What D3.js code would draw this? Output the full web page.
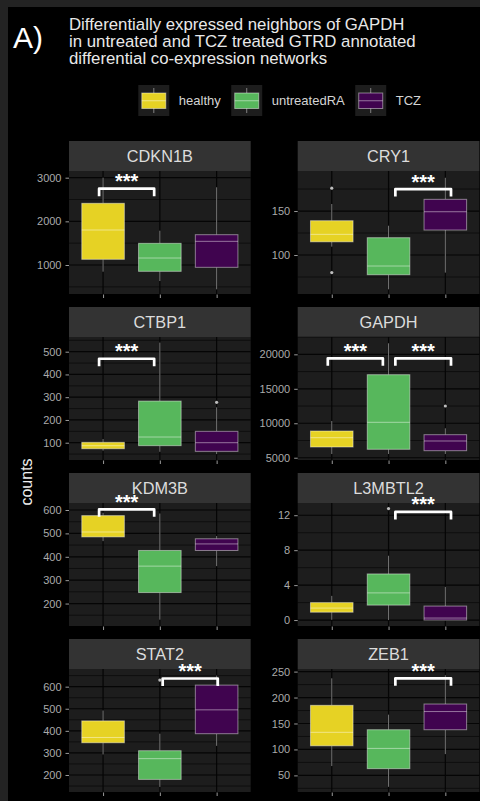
<!DOCTYPE html>
<html>
<head>
<meta charset="utf-8">
<script src="https://cdn.jsdelivr.net/npm/d3@7/dist/d3.min.js"></script>
<style>
  html, body { margin: 0; padding: 0; background: #000; }
  svg { display: block; font-family: "Liberation Sans", Arial, sans-serif; }
</style>
</head>
<body>
<svg id="chart" width="480" height="801"></svg>
<script>
// ---- data -------------------------------------------------------------
const genes = ["CDKN1B", "CRY1", "CTBP1", "GAPDH", "KDM3B", "L3MBTL2", "STAT2", "ZEB1"];
const groups = ["healthy", "untreatedRA", "TCZ"];
const groupColors = ["#e6d224", "#57b75c", "#40044f"];

// box statistics per gene, one value per group (healthy, untreatedRA, TCZ)
const whiskerLow  = [[847, 633, 443], [109.5, 61, 80], [65, 60, 50], [5542, 5542, 5542],
                     [467, 131, 360], [0.03, 0, 0], [293, 146, 332], [68, 28, 91]];
const quartile1   = [[1130, 855, 947], [115, 77.6, 128.4], [73.6, 87, 62], [6557, 6223, 6021],
                     [485, 247, 427], [0.9, 1.71, 0], [346, 180, 387], [107, 63, 138]];
const medians     = [[1802, 1160, 1542], [123.5, 87.5, 149.2], [86.8, 125, 100], [7907, 10141, 7428],
                     [506, 360, 455], [1.37, 3.11, 0.23], [370, 274, 495], [133, 102, 173]];
const quartile3   = [[2413, 1497, 1694], [139, 119.7, 163.3], [101.6, 283, 150], [8879, 17046, 8342],
                     [576, 427, 477], [2.0, 5.28, 1.6], [445, 310, 607], [185, 138, 187.5]];
const whiskerHigh = [[3000, 1786, 2780], [158, 133.3, 187.8], [116, 540, 255.6], [10329, 21601, 9270],
                     [588, 585, 489], [2.77, 7.36, 3.8], [492, 387, 650], [237, 167, 243]];

// outlying points: [gene, group, value]
const outliers = [
  ["CRY1", "healthy", 176], ["CRY1", "healthy", 80],
  ["CTBP1", "TCZ", 277.6],
  ["GAPDH", "TCZ", 12505],
  ["L3MBTL2", "untreatedRA", 12.76],
  ["STAT2", "untreatedRA", 630]
];

// significance brackets: [gene, xmin, xmax (group index units, 1-based), y value, label]
const brackets = [
  ["CDKN1B", 0.93, 1.9, 2748, "***"],
  ["CRY1", 2.12, 3.1, 175, "***"],
  ["CTBP1", 0.93, 1.9, 469, "***"],
  ["GAPDH", 0.93, 1.9, 19425, "***"],
  ["GAPDH", 2.12, 3.1, 19425, "***"],
  ["KDM3B", 0.93, 1.9, 603, "***"],
  ["L3MBTL2", 2.12, 3.1, 12.38, "***"],
  ["STAT2", 2.05, 3.02, 637, "***"],
  ["ZEB1", 2.12, 3.1, 237, "***"]
];

// y axis: tick values and scale limits per gene
const yTicks = [[1000, 2000, 3000], [100, 150], [100, 200, 300, 400, 500], [5000, 10000, 15000, 20000],
                [200, 300, 400, 500, 600], [0, 4, 8, 12], [200, 300, 400, 500, 600], [50, 100, 150, 200, 250]];
const yLimits = [[336, 3153], [55.7, 195.5], [24, 564.6], [4671, 22516],
                 [104, 630], [-0.68, 13.4], [123, 680], [18, 255]];

// ---- layout -----------------------------------------------------------
const W = 480, H = 801;
const colX = [69, 297.7];
const panelW = 181.7;
const rowY = [141, 307, 473, 639];
const stripH = 30, plotH = 123;
const FONT = "Liberation Sans, Arial, sans-serif";

const C = {
  frame: "#232323", bg: "#000000", panel: "#1d1d1d", grid: "#050505",
  strip: "#333333", stripText: "#dcdcdc", tickText: "#aaaaaa", tick: "#9a9a9a",
  line: "rgba(255,255,255,0.45)", outlier: "#bdbdbd", text: "#e8e8e8"
};

const svg = d3.select("#chart");

// outer frame and black figure area
svg.append("rect").attr("width", W).attr("height", H).attr("fill", C.frame);
svg.append("rect").attr("x", 8).attr("y", 7).attr("width", W - 8).attr("height", H - 7).attr("fill", C.bg);

// heading
svg.append("text").attr("x", 13).attr("y", 47.7).attr("font-size", 30).attr("fill", "#ffffff").text("A)");
const titleLines = ["Differentially expressed neighbors of GAPDH",
                    "in untreated and TCZ treated GTRD annotated",
                    "differential co-expression networks"];
svg.append("g").selectAll("text").data(titleLines).join("text")
  .attr("x", 69).attr("y", (d, i) => 29.7 + i * 17.3)
  .attr("font-size", 16.8).attr("fill", C.text).text(d => d);

// legend
const legend = svg.append("g");
let lx = 138.3;
groups.forEach((g, i) => {
  const k = legend.append("g").attr("transform", `translate(${lx},85)`);
  k.append("rect").attr("width", 31).attr("height", 31).attr("fill", C.panel);
  k.append("line").attr("x1", 15.5).attr("x2", 15.5).attr("y1", 3).attr("y2", 28)
    .attr("stroke", C.line).attr("stroke-width", 1);
  k.append("rect").attr("x", 3.5).attr("y", 8).attr("width", 24).attr("height", 15.5)
    .attr("fill", groupColors[i]).attr("stroke", C.line).attr("stroke-width", 1);
  k.append("line").attr("x1", 3.5).attr("x2", 27.5).attr("y1", 15.75).attr("y2", 15.75)
    .attr("stroke", C.line).attr("stroke-width", 1);
  const t = legend.append("text").attr("x", lx + 40.5).attr("y", 100.5).attr("dy", "0.35em")
    .attr("font-size", 13).attr("fill", "#d4d4d4").text(g);
  lx += 40.5 + t.node().getComputedTextLength() + 10.5;
});

// y axis title
svg.append("text").attr("transform", "translate(32,482) rotate(-90)")
  .attr("text-anchor", "middle").attr("font-size", 16).attr("fill", "#eeeeee").text("counts");

// ---- panels -----------------------------------------------------------
genes.forEach((gene, gi) => {
  const col = gi % 2, row = Math.floor(gi / 2);
  const x0 = colX[col], top = rowY[row], pTop = top + stripH, pBot = pTop + plotH;
  const x = d3.scaleLinear().domain([0.4, 3.6]).range([x0, x0 + panelW]);
  const y = d3.scaleLinear().domain(yLimits[gi]).range([pBot, pTop]);
  const g = svg.append("g");

  // strip
  g.append("rect").attr("x", x0).attr("y", top).attr("width", panelW).attr("height", stripH).attr("fill", C.strip);
  g.append("text").attr("x", x0 + panelW / 2).attr("y", top + stripH / 2).attr("dy", "0.36em")
    .attr("text-anchor", "middle").attr("font-size", 16.3).attr("fill", C.stripText).text(gene);

  // panel background and grid
  g.append("rect").attr("x", x0).attr("y", pTop).attr("width", panelW).attr("height", plotH).attr("fill", C.panel);
  const ticks = yTicks[gi];
  const step = ticks[1] - ticks[0];
  const minors = [];
  for (let v = ticks[0] - step / 2; v <= ticks[ticks.length - 1] + step; v += step) minors.push(v);
  const dom = yLimits[gi];
  g.append("g").selectAll("line").data(minors.filter(v => v > dom[0] && v < dom[1])).join("line")
    .attr("x1", x0).attr("x2", x0 + panelW).attr("y1", d => y(d)).attr("y2", d => y(d))
    .attr("stroke", C.grid).attr("stroke-width", 0.6);
  g.append("g").selectAll("line").data(ticks).join("line")
    .attr("x1", x0).attr("x2", x0 + panelW).attr("y1", d => y(d)).attr("y2", d => y(d))
    .attr("stroke", C.grid).attr("stroke-width", 1.2);
  g.append("g").selectAll("line").data([1, 2, 3]).join("line")
    .attr("x1", d => x(d)).attr("x2", d => x(d)).attr("y1", pTop).attr("y2", pBot)
    .attr("stroke", C.grid).attr("stroke-width", 1.2);

  // axes
  const yAxis = d3.axisLeft(y).tickValues(ticks).tickSize(3.5).tickPadding(4).tickFormat(d => String(d));
  const ya = g.append("g").attr("transform", `translate(${x0},0)`).call(yAxis)
    .attr("font-family", FONT).attr("font-size", 11);
  ya.select(".domain").remove();
  ya.selectAll("line").attr("stroke", C.tick);
  ya.selectAll("text").attr("fill", C.tickText);
  const xAxis = d3.axisBottom(x).tickValues([1, 2, 3]).tickSize(3.5).tickFormat("");
  const xa = g.append("g").attr("transform", `translate(0,${pBot + 0.5})`).call(xAxis);
  xa.select(".domain").remove();
  xa.selectAll("line").attr("stroke", C.tick);

  // boxes
  groups.forEach((grp, k) => {
    const cx = x(k + 1), hw = x(k + 1.375) - cx;
    g.append("line").attr("x1", cx).attr("x2", cx)
      .attr("y1", y(whiskerHigh[gi][k])).attr("y2", y(quartile3[gi][k]))
      .attr("stroke", C.line).attr("stroke-width", 1);
    g.append("line").attr("x1", cx).attr("x2", cx)
      .attr("y1", y(quartile1[gi][k])).attr("y2", y(whiskerLow[gi][k]))
      .attr("stroke", C.line).attr("stroke-width", 1);
    g.append("rect").attr("x", cx - hw).attr("width", 2 * hw)
      .attr("y", y(quartile3[gi][k])).attr("height", Math.max(0, y(quartile1[gi][k]) - y(quartile3[gi][k])))
      .attr("fill", groupColors[k]).attr("stroke", C.line).attr("stroke-width", 1);
    g.append("line").attr("x1", cx - hw).attr("x2", cx + hw)
      .attr("y1", y(medians[gi][k])).attr("y2", y(medians[gi][k]))
      .attr("stroke", C.line).attr("stroke-width", 1);
  });

  // outliers
  g.append("g").selectAll("circle").data(outliers.filter(o => o[0] === gene)).join("circle")
    .attr("cx", d => x(groups.indexOf(d[1]) + 1)).attr("cy", d => y(d[2])).attr("r", 1.6)
    .attr("fill", C.outlier);

  // significance brackets
  brackets.filter(b => b[0] === gene).forEach(b => {
    const xa1 = x(b[1]), xa2 = x(b[2]), yb = y(b[3]);
    g.append("path").attr("d", `M${xa1},${yb + 7.5}V${yb}H${xa2}V${yb + 7.5}`)
      .attr("fill", "none").attr("stroke", "#ffffff").attr("stroke-width", 2.7)
      .attr("stroke-linejoin", "round").attr("stroke-linecap", "butt");
    g.append("text").attr("x", (xa1 + xa2) / 2).attr("y", yb - 0.5)
      .attr("text-anchor", "middle").attr("font-size", 20).attr("font-weight", "bold")
      .attr("fill", "#ffffff").text(b[4]);
  });
});
</script>
</body>
</html>
